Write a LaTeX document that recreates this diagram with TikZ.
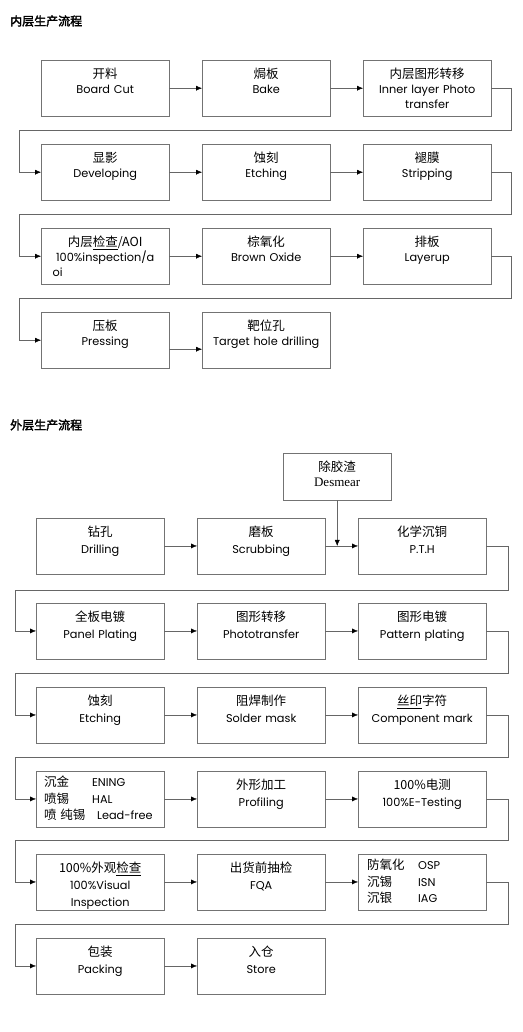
\documentclass[tikz,border=0pt]{standalone}
\usepackage{fontspec}
\setmainfont{Poppins}
\newfontfamily\cjk{Noto Sans CJK SC}
\newfontfamily\cjkbf[FakeBold=2.5]{Noto Sans CJK SC}
\newfontfamily\serifa{Liberation Serif}
\usetikzlibrary{arrows.meta}

\newcommand{\zh}[1]{{\cjk\fontsize{12.5}{15}\selectfont #1}}

\tikzset{
  scatola/.style={draw=black!55, rectangle, anchor=north west, inner sep=0pt,
    minimum width=128pt, minimum height=56pt, text width=128pt, align=center,
    text height=18.5pt, text depth=37.5pt, font=\fontsize{11.3}{15}\selectfont},
  esterna/.style={scatola, minimum height=55.5pt, text depth=37pt,
    font=\fontsize{11.3}{17}\selectfont},
  elenco/.style={esterna, align=left, text width=112pt, inner xsep=8pt,
    text height=15.5pt, text depth=40pt, font=\fontsize{11.3}{16.5}\selectfont},
  freccia/.style={draw=black!60, -{Latex[length=6pt,width=5pt,color=black]}},
  titolo/.style={anchor=west, inner sep=0pt, font=\cjkbf\fontsize{12}{12}\selectfont}
}

\begin{document}
\begin{tikzpicture}[x=1pt, y=-1pt]
  \useasboundingbox (0,0) rectangle (522,1032);

  % processo strati interni
  \node[titolo] (titint) at (10,21) {内层生产流程};

  \node[scatola] (cut)    at (41,60)  {\zh{开料}\\Board Cut};
  \node[scatola] (bake)   at (202,60) {\zh{焗板}\\Bake};
  \node[scatola] (photo)  at (363,60) {\zh{内层图形转移}\\Inner layer Photo\\transfer};

  \node[scatola] (develop) at (41,144)  {\zh{显影}\\Developing};
  \node[scatola] (etch)    at (202,144) {\zh{蚀刻}\\Etching};
  \node[scatola] (strip)   at (363,144) {\zh{褪膜}\\Stripping};

  \node[scatola] (aoi)   at (41,228)  {\zh{内层\underline{检查}/AOI}\\100\%inspection/a\\\makebox[105pt][l]{oi}};
  \node[scatola] (oxide) at (202,228) {\zh{棕氧化}\\Brown Oxide};
  \node[scatola] (layup) at (363,228) {\zh{排板}\\Layerup};

  \node[scatola] (press)  at (41,312)  {\zh{压板}\\Pressing};
  \node[scatola] (target) at (202,312) {\zh{靶位孔}\\Target hole drilling};

  % frecce
  \draw[freccia] (cut.east) -- (bake.west);
  \draw[freccia] (bake.east) -- (photo.west);
  \draw[freccia] (photo.east) -- ++(20,0) -- ++(0,42) -| ([xshift=-22pt]develop.west) -- (develop.west);
  \draw[freccia] (develop.east) -- (etch.west);
  \draw[freccia] (etch.east) -- (strip.west);
  \draw[freccia] (strip.east) -- ++(20,0) -- ++(0,42) -| ([xshift=-22pt]aoi.west) -- (aoi.west);
  \draw[freccia] (aoi.east) -- (oxide.west);
  \draw[freccia] (oxide.east) -- (layup.west);
  \draw[freccia] (layup.east) -- ++(20,0) -- ++(0,42) -| ([xshift=-22pt]press.west) -- (press.west);
  \draw[freccia] ([yshift=-9pt]press.east) -- ([yshift=-9pt]target.west);

  % processo strati esterni
  \node[titolo] (titest) at (10,425) {外层生产流程};

  \node[scatola, minimum width=108pt, minimum height=47pt, text width=108pt,
    text depth=28.5pt] (desmear) at (283,453) {\zh{除胶渣}\\{\serifa\fontsize{13}{15}\selectfont Desmear}};

  \node[esterna] (drill) at (36,518)  {\zh{钻孔}\\Drilling};
  \node[esterna] (scrub) at (197,518) {\zh{磨板}\\Scrubbing};
  \node[esterna] (pth)   at (358,518) {\zh{化学沉铜}\\P.T.H};

  \node[esterna] (panel)   at (36,603)  {\zh{全板电镀}\\Panel Plating};
  \node[esterna] (transf)  at (197,603) {\zh{图形转移}\\Phototransfer};
  \node[esterna] (pattern) at (358,603) {\zh{图形电镀}\\Pattern plating};

  \node[esterna] (etch2) at (36,687)  {\zh{蚀刻}\\Etching};
  \node[esterna] (mask)  at (197,687) {\zh{阻焊制作}\\Solder mask};
  \node[esterna] (mark)  at (358,687) {\zh{\underline{丝印}字符}\\Component mark};

  \node[elenco]  (finish)  at (36,771)  {\makebox[48pt][l]{\zh{沉金}}ENING\\\makebox[48pt][l]{\zh{喷锡}}HAL\\\makebox[53pt][l]{\zh{喷 纯锡}}Lead-free};
  \node[esterna] (profile) at (197,771) {\zh{外形加工}\\Profiling};
  \node[esterna] (etest)   at (358,771) {\zh{100\%电测}\\100\%E-Testing};

  \node[esterna] (visual) at (36,854)  {\zh{100\%外观\underline{检查}}\\100\%Visual\\Inspection};
  \node[esterna] (fqa)    at (197,854) {\zh{出货前抽检}\\FQA};
  \node[elenco, inner xsep=9pt, text width=110pt] (osp) at (358,854) {\makebox[51pt][l]{\zh{防氧化}}OSP\\\makebox[51pt][l]{\zh{沉锡}}ISN\\\makebox[51pt][l]{\zh{沉银}}IAG};

  \node[esterna] (pack)  at (36,938)  {\zh{包装}\\Packing};
  \node[esterna] (store) at (197,938) {\zh{入仓}\\Store};

  % frecce
  \coordinate (innesto) at (desmear.south |- scrub.east);
  \draw[freccia] (desmear.south) -- (innesto);
  \draw[freccia] (drill.east) -- (scrub.west);
  \draw[freccia] (scrub.east) -- (pth.west);
  \draw[freccia] (pth.east) -- ++(22,0) -- ++(0,44) -| ([xshift=-21pt]panel.west) -- (panel.west);
  \draw[freccia] (panel.east) -- (transf.west);
  \draw[freccia] (transf.east) -- (pattern.west);
  \draw[freccia] (pattern.east) -- ++(22,0) -- ++(0,42.5) -| ([xshift=-21pt]etch2.west) -- (etch2.west);
  \draw[freccia] (etch2.east) -- (mask.west);
  \draw[freccia] (mask.east) -- (mark.west);
  \draw[freccia] (mark.east) -- ++(22,0) -- ++(0,42.5) -| ([xshift=-21pt]finish.west) -- (finish.west);
  \draw[freccia] (finish.east) -- (profile.west);
  \draw[freccia] (profile.east) -- (etest.west);
  \draw[freccia] (etest.east) -- ++(22,0) -- ++(0,41.5) -| ([xshift=-21pt]visual.west) -- (visual.west);
  \draw[freccia] (visual.east) -- (fqa.west);
  \draw[freccia] (fqa.east) -- (osp.west);
  \draw[freccia] (osp.east) -- ++(22,0) -- ++(0,42) -| ([xshift=-21pt]pack.west) -- (pack.west);
  \draw[freccia] (pack.east) -- (store.west);
\end{tikzpicture}
\end{document}
